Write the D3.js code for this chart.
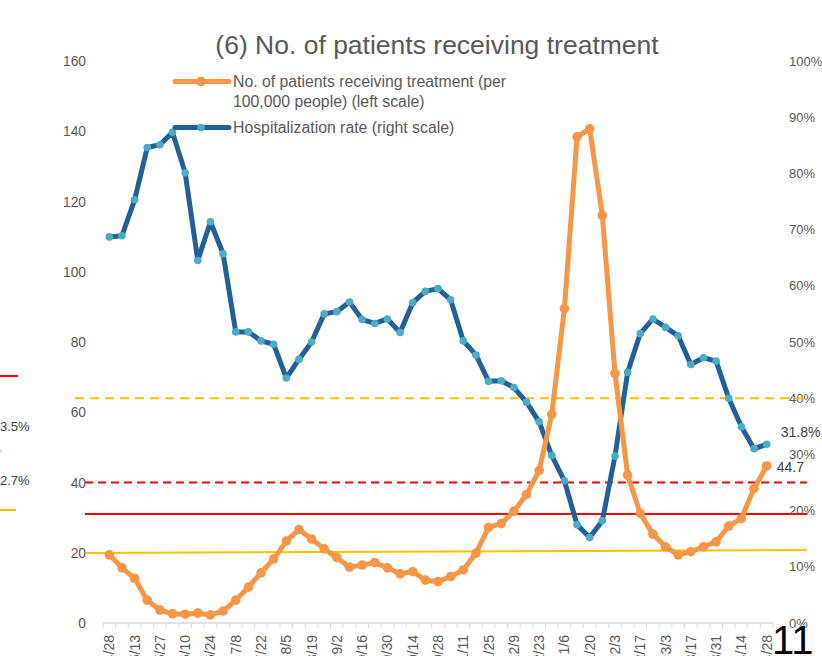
<!DOCTYPE html>
<html>
<head>
<meta charset="utf-8">
<script src="https://cdn.jsdelivr.net/npm/d3@7"></script>
<style>
  html, body { margin: 0; padding: 0; background: #fff; overflow: hidden; }
  svg { display: block; font-family: "Liberation Sans", Arial, sans-serif; }
</style>
</head>
<body>
<svg id="chart" width="822" height="656"></svg>
<script>
// ---------------- data ----------------
const weeks = ["4/28","5/6","5/13","5/20","5/27","6/3","6/10","6/17","6/24","7/1","7/8","7/15","7/22","7/29",
  "8/5","8/12","8/19","8/26","9/2","9/9","9/16","9/23","9/30","10/7","10/14","10/21","10/28","11/4",
  "11/11","11/18","11/25","12/2","12/9","12/16","12/23","12/30","1/6","1/13","1/20","1/27","2/3","2/10",
  "2/17","2/24","3/3","3/10","3/17","3/24","3/31","4/7","4/14","4/21","4/28"];

const patients = [19.4,15.7,12.7,6.5,3.7,2.6,2.5,2.8,2.3,3.4,6.5,10.2,14.3,18.2,23.3,26.6,23.9,21.1,18.6,15.9,
  16.5,17.2,15.7,14.0,14.6,12.2,11.8,13.2,15.1,19.9,27.2,28.3,31.8,36.6,43.4,59.4,89.5,138.4,140.7,116.0,
  71.0,42.1,31.2,25.3,21.7,19.4,20.3,21.7,23.1,27.6,29.8,38.3,44.7];

const hospRate = [68.7,68.9,75.3,84.6,85.1,87.3,80.1,64.5,71.4,65.7,51.8,51.8,50.2,49.6,43.6,46.9,50.0,55.0,
  55.4,57.1,54.0,53.3,54.1,51.7,57.0,59.0,59.5,57.5,50.2,47.7,43.0,43.1,41.9,39.3,35.8,29.8,25.3,17.5,15.2,
  18.2,29.7,44.6,51.5,54.1,52.6,51.1,46.0,47.2,46.6,40.0,34.9,31.0,31.8];

const leftTicks = [0,20,40,60,80,100,120,140,160];
const rightTicks = [0,10,20,30,40,50,60,70,80,90,100];

// reference lines on the left scale
const refLines = [
  { from: 64,   to: 64,   color: "#FFC000", dash: "9,6", extL: 28 },
  { from: 40,   to: 40,   color: "#FF0000", dash: "8,5", extL: 18 },
  { from: 31,   to: 31,   color: "#FF0000", dash: null,  extL: 18 },
  { from: 19.9, to: 20.8, color: "#FFC000", dash: null,  extL: 18 }
];

const titleText = "(6) No. of patients receiving treatment";
const legendItems = [
  { lines: ["No. of patients receiving treatment (per", "100,000 people) (left scale)"], color: "#F79646", marker: "#F79646" },
  { lines: ["Hospitalization rate (right scale)"], color: "#23609A", marker: "#4BACC6" }
];

// ---------------- layout ----------------
const svg = d3.select("#chart");
const plot = { left: 103, right: 773, top: 61, bottom: 623 };

const x = d3.scaleBand().domain(d3.range(weeks.length)).range([plot.left, plot.right]).padding(0);
const cx = i => x(i) + x.bandwidth() / 2;
const yL = d3.scaleLinear().domain([0, 160]).range([plot.bottom, plot.top]);
const yR = d3.scaleLinear().domain([0, 100]).range([plot.bottom, plot.top]);

const textCol = "#595959";

// fragments of the neighbouring chart at the left edge
const frag = svg.append("g");
frag.append("line").attr("x1", 0).attr("x2", 18).attr("y1", 376).attr("y2", 376).attr("stroke", "#FF0000").attr("stroke-width", 2);
frag.append("text").attr("x", 0).attr("y", 431).attr("font-size", 13).attr("fill", "#404040").text("3.5%");
frag.append("circle").attr("cx", 0).attr("cy", 451).attr("r", 2).attr("fill", "#BFE3EE");
frag.append("text").attr("x", 0).attr("y", 485).attr("font-size", 13).attr("fill", "#404040").text("2.7%");
frag.append("line").attr("x1", 0).attr("x2", 16).attr("y1", 510).attr("y2", 510).attr("stroke", "#FFC000").attr("stroke-width", 2);

// title
svg.append("text").attr("x", 437).attr("y", 54).attr("text-anchor", "middle")
  .attr("font-size", 26.5).attr("fill", textCol).text(titleText);

// left axis labels
svg.append("g").selectAll("text").data(leftTicks).join("text")
  .attr("x", 86).attr("y", d => yL(d) + 5).attr("text-anchor", "end")
  .attr("font-size", 13.8).attr("fill", textCol).text(d => d);

// right axis labels
svg.append("g").selectAll("text").data(rightTicks).join("text")
  .attr("x", 789).attr("y", d => yR(d) + 4.5).attr("text-anchor", "start")
  .attr("font-size", 13).attr("fill", textCol).text(d => d + "%");

// x axis
const xa = svg.append("g");
xa.append("line").attr("x1", plot.left).attr("x2", plot.right).attr("y1", plot.bottom).attr("y2", plot.bottom)
  .attr("stroke", "#D9D9D9").attr("stroke-width", 1.5);
xa.selectAll("line.tick").data(d3.range(weeks.length + 1)).join("line").attr("class", "tick")
  .attr("x1", i => plot.left + i * x.bandwidth()).attr("x2", i => plot.left + i * x.bandwidth())
  .attr("y1", plot.bottom).attr("y2", plot.bottom + 5)
  .attr("stroke", "#D9D9D9").attr("stroke-width", 1);
xa.selectAll("text").data(weeks.map((w, i) => ({ w, i })).filter(d => d.i % 2 === 0)).join("text")
  .attr("transform", d => `translate(${cx(d.i) + 5},635) rotate(-90)`)
  .attr("text-anchor", "end").attr("font-size", 14).attr("fill", textCol).text(d => d.w);

// reference lines
svg.append("g").selectAll("line").data(refLines).join("line")
  .attr("x1", d => plot.left - d.extL).attr("x2", plot.right + 34)
  .attr("y1", d => yL(d.from)).attr("y2", d => yL(d.to))
  .attr("stroke", d => d.color).attr("stroke-width", 2)
  .attr("stroke-dasharray", d => d.dash);

// series: hospitalization rate (right scale)
const lineR = d3.line().x((d, i) => cx(i)).y(d => yR(d));
svg.append("path").datum(hospRate).attr("d", lineR).attr("fill", "none")
  .attr("stroke", "#23609A").attr("stroke-width", 5).attr("stroke-linejoin", "round").attr("stroke-linecap", "round");
svg.append("g").selectAll("circle").data(hospRate).join("circle")
  .attr("cx", (d, i) => cx(i)).attr("cy", d => yR(d)).attr("r", 3.8).attr("fill", "#4BACC6");

// series: patients (left scale)
const lineL = d3.line().x((d, i) => cx(i)).y(d => yL(d));
svg.append("path").datum(patients).attr("d", lineL).attr("fill", "none")
  .attr("stroke", "#F79646").attr("stroke-width", 5).attr("stroke-linejoin", "round").attr("stroke-linecap", "round");
svg.append("g").selectAll("circle").data(patients).join("circle")
  .attr("cx", (d, i) => cx(i)).attr("cy", d => yL(d)).attr("r", 4.8).attr("fill", "#F79646");

// data labels for the last points
const last = weeks.length - 1;
svg.append("text").attr("x", cx(last) + 14).attr("y", yR(hospRate[last]) - 7)
  .attr("font-size", 14).attr("fill", "#404040").text(hospRate[last].toFixed(1) + "%");
svg.append("text").attr("x", cx(last) + 10).attr("y", yL(patients[last]) + 6)
  .attr("font-size", 14).attr("fill", "#404040").text(patients[last].toFixed(1));

// legend
const lg = svg.append("g");
const legY = [81.5, 127.5];
legendItems.forEach((it, k) => {
  const g = lg.append("g").attr("transform", `translate(0,${legY[k]})`);
  g.append("line").attr("x1", 175).attr("x2", 229).attr("y1", 0).attr("y2", 0)
    .attr("stroke", it.color).attr("stroke-width", 5).attr("stroke-linecap", "round");
  g.append("circle").attr("cx", 201).attr("cy", 0).attr("r", k === 0 ? 4.8 : 3.8).attr("fill", it.marker);
  it.lines.forEach((t, j) => {
    g.append("text").attr("x", 233).attr("y", 5 + j * 20).attr("font-size", 15.8).attr("fill", textCol).text(t);
  });
});

// page number
svg.append("text").attr("x", 772).attr("y", 654).attr("font-size", 40).attr("fill", "#000").text("11");
</script>
</body>
</html>
